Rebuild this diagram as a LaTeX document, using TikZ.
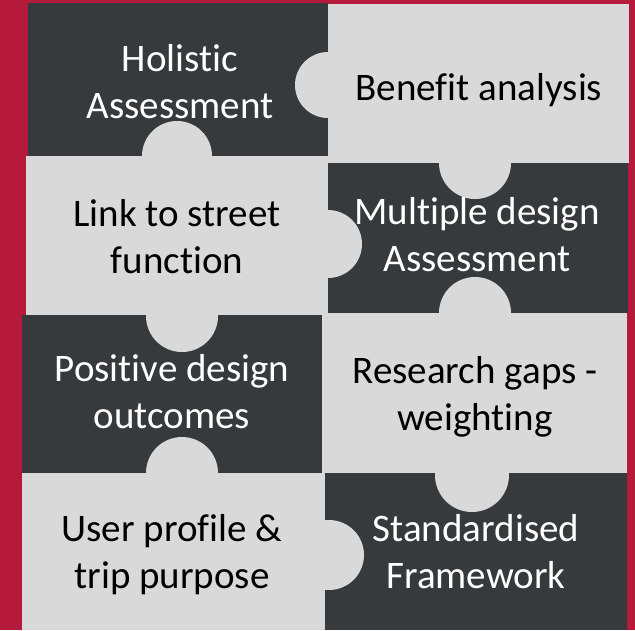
\documentclass[tikz,border=0pt]{standalone}
\usepackage{fontspec}
\setmainfont[RawFeature={-liga;-clig;-dlig}]{Carlito}
\definecolor{crimson}{HTML}{B5193B}
\definecolor{slate}{HTML}{373A3C}
\definecolor{silver}{HTML}{D9D9D9}
\begin{document}
\begin{tikzpicture}[x=1pt, y=-1pt,
      piecetext/.style={align=center, inner sep=0pt, text depth=0pt,
        font=\fontsize{39}{47}\selectfont},
      darktext/.style={piecetext, text=white},
      lighttext/.style={piecetext, text=black},
      knob/.style={fill=silver}]
      \useasboundingbox (0,0) rectangle (635,630);
      \fill[crimson] (0,0) rectangle (635,630);
      % row 1
      \fill[slate] (28,3) rectangle (328,156);
      \fill[silver] (328,4) rectangle (629,163);
      % row 2
      \fill[silver] (26,156) rectangle (328,315);
      \fill[slate] (328,163) rectangle (628,313);
      % row 3
      \fill[slate] (22,315) rectangle (322,473);
      \fill[silver] (322,313) rectangle (627,473);
      % row 4
      \fill[silver] (22,473) rectangle (325,630);
      \fill[slate] (325,473) rectangle (627,630);
      % knobs
      \path[knob] (328,85) circle[radius=33];
      \path[knob] (177,156) circle[radius=35];
      \path[knob] (328,244) circle[radius=34];
      \path[knob] (475,163) circle[radius=36];
      \path[knob] (475,313) circle[radius=36];
      \path[knob] (182,316) circle[radius=36];
      \path[knob] (182,473) circle[radius=36];
      \path[knob] (472,475) circle[radius=37];
      \path[knob] (329,555) circle[radius=35];
      % texts
      \node[darktext] (holistic) at (180,81.5) {Holistic\\Assessment};
      \node[lighttext] (benefit) at (479,86.5) {Benefit analysis};
      \node[lighttext] (link) at (177,236.5) {Link to street\\function};
      \node[darktext] (multiple) at (477,234) {Multiple design\\Assessment};
      \node[darktext] (positive) at (172,391.5) {Positive design\\outcomes};
      \node[lighttext] (research) at (475,393) {Research gaps -\\weighting};
      \node[lighttext] (user) at (172,551.5) {User profile \&\\trip purpose};
      \node[darktext] (standard) at (476,551.5) {Standardised\\Framework};
  \end{tikzpicture}
\end{document}
